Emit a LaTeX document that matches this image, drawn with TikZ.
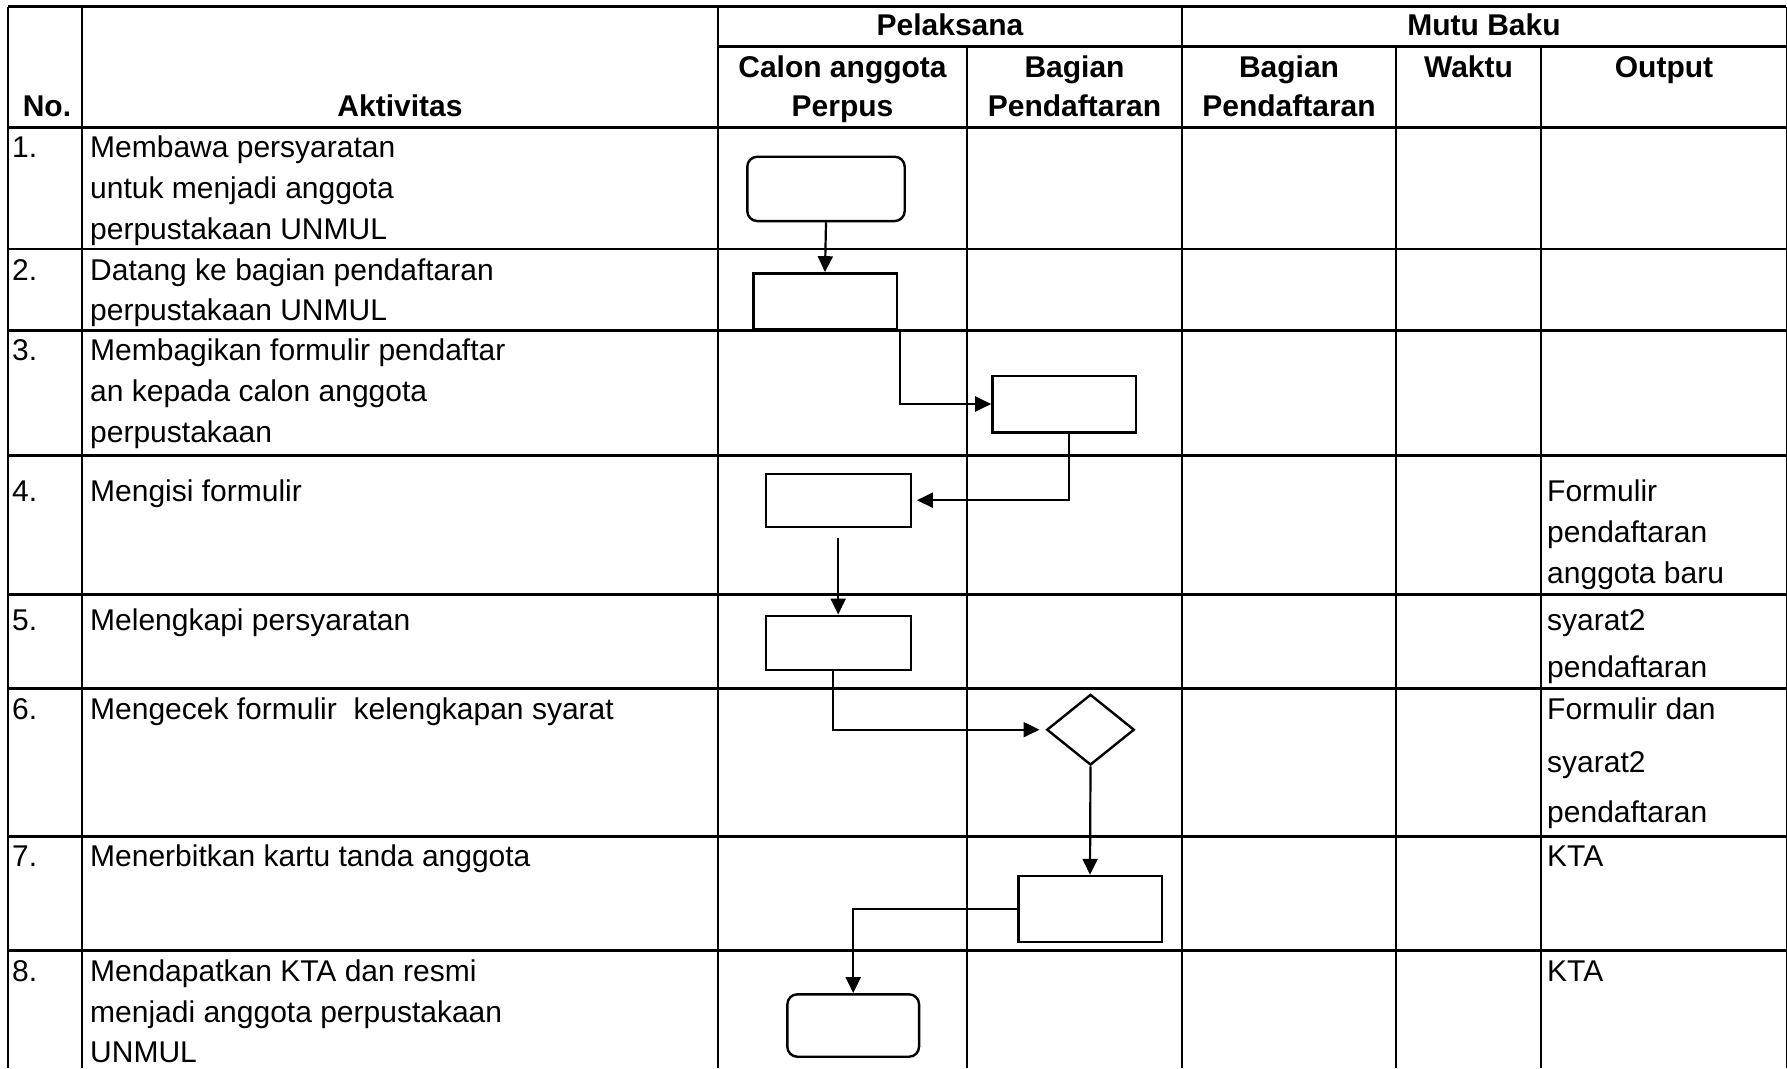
\documentclass[tikz,border=0pt]{standalone}
\usepackage{fontspec}
\setmainfont{Liberation Sans}
\usetikzlibrary{shapes.geometric,arrows.meta,calc}
\begin{document}
\begin{tikzpicture}[x=1pt,y=-1pt,
  grid/.style={line width=2.8pt},
  thinborder/.style={line width=1pt},
  box/.style={draw, rectangle, line width=2.4pt, inner sep=0pt},
  rbox/.style={box, rounded corners=10pt},
  dia/.style={draw, diamond, line width=2.4pt, inner sep=0pt},
  arr/.style={line width=2.2pt, -{Triangle[length=16pt,width=15pt]}},
  txt/.style={anchor=base west, inner sep=0pt, font=\fontsize{30}{36}\selectfont},
  hdr/.style={anchor=base, inner sep=0pt, font=\fontsize{30}{36}\selectfont\bfseries},
]
\useasboundingbox (0,0) rectangle (1787,1068);
\fill[white] (0,0) rectangle (1787,1068);

% ---- table grid ----
\draw[grid] (8,6.7) -- (1786,6.7);
\draw[grid] (718,46.7) -- (1786,46.7);
\foreach \yy in {127.7,249,330.3,455.3,594.3,688.3,836.7,950.3}
  \draw[grid] (8,\yy) -- (1786,\yy);
\foreach \xx in {8,82,718,1182}
  \draw[grid] (\xx,6.7) -- (\xx,1068);
\foreach \xx in {967,1396,1541}
  \draw[grid] (\xx,46.7) -- (\xx,1068);
\draw[thinborder] (1786,6.7) -- (1786,1068);

% ---- headers ----
\node[hdr] (hno) at (47,116) {No.};
\node[hdr] (hakt) at (400,116) {Aktivitas};
\node[hdr] (hpel) at (950,35) {Pelaksana};
\node[hdr] (hmutu) at (1484,35) {Mutu Baku};
\node[hdr] (hcal1) at (842.5,77) {Calon anggota};
\node[hdr] (hcal2) at (842.5,116) {Perpus};
\node[hdr] (hbag1) at (1074.5,77) {Bagian};
\node[hdr] (hbag2) at (1074.5,116) {Pendaftaran};
\node[hdr] (hmbag1) at (1289,77) {Bagian};
\node[hdr] (hmbag2) at (1289,116) {Pendaftaran};
\node[hdr] (hwak) at (1468.5,77) {Waktu};
\node[hdr] (hout) at (1664,77) {Output};

% ---- row texts ----
\node[txt] (n1) at (12,157.5) {1.};
\node[txt] (a1a) at (90,157.5) {Membawa persyaratan};
\node[txt] (a1b) at (90,198) {untuk menjadi anggota};
\node[txt] (a1c) at (90,239) {perpustakaan UNMUL};

\node[txt] (n2) at (12,280) {2.};
\node[txt] (a2a) at (90,280) {Datang ke bagian pendaftaran};
\node[txt] (a2b) at (90,320) {perpustakaan UNMUL};

\node[txt] (n3) at (12,360) {3.};
\node[txt] (a3a) at (90,360) {Membagikan formulir pendaftar};
\node[txt] (a3b) at (90,401) {an kepada calon anggota};
\node[txt] (a3c) at (90,442) {perpustakaan};

\node[txt] (n4) at (12,501) {4.};
\node[txt] (a4a) at (90,501) {Mengisi formulir};
\node[txt] (o4a) at (1547,501) {Formulir};
\node[txt] (o4b) at (1547,542) {pendaftaran};
\node[txt] (o4c) at (1547,583) {anggota baru};

\node[txt] (n5) at (12,630) {5.};
\node[txt] (a5a) at (90,630) {Melengkapi persyaratan};
\node[txt] (o5a) at (1547,630) {syarat2};
\node[txt] (o5b) at (1547,677) {pendaftaran};

\node[txt] (n6) at (12,719) {6.};
\node[txt] (a6a) at (90,719) {Mengecek formulir\ \ kelengkapan syarat};
\node[txt] (o6a) at (1547,719) {Formulir dan};
\node[txt] (o6b) at (1547,772) {syarat2};
\node[txt] (o6c) at (1547,822) {pendaftaran};

\node[txt] (n7) at (12,866) {7.};
\node[txt] (a7a) at (90,866) {Menerbitkan kartu tanda anggota};
\node[txt] (o7a) at (1547,866) {KTA};

\node[txt] (n8) at (12,981) {8.};
\node[txt] (a8a) at (90,981) {Mendapatkan KTA dan resmi};
\node[txt] (a8b) at (90,1022) {menjadi anggota perpustakaan};
\node[txt] (a8c) at (90,1062) {UNMUL};
\node[txt] (o8a) at (1547,981) {KTA};

% ---- flowchart shapes ----
\node[rbox, minimum width=157.4pt, minimum height=64.3pt] (s1) at (826,188.9) {};
\node[box, minimum width=143.4pt, minimum height=55.7pt] (s2) at (825,301.2) {};
\node[box, minimum width=143.7pt, minimum height=56.6pt] (s3) at (1064.2,404) {};
\node[box, minimum width=145pt, minimum height=53pt] (s4) at (838.2,500.2) {};
\node[box, minimum width=145pt, minimum height=54.3pt] (s5) at (838.2,642.9) {};
\node[dia, minimum width=87.6pt, minimum height=70.7pt] (s6) at (1090.5,729.7) {};
\node[box, minimum width=143.4pt, minimum height=66pt] (s7) at (1090,909) {};
\node[rbox, minimum width=131.7pt, minimum height=62.4pt] (s8) at (853.2,1025.5) {};

% ---- connectors ----
\draw[arr] (s1.south) -- (s2.north);
\draw[arr] ([xshift=2pt]s2.south east) |- (s3.west);
\draw[arr] ([xshift=5pt]s3.south) |- ([xshift=5pt]s4.east);
\draw[arr] ([yshift=-10pt]s4.south) -- (s5.north);
\draw[arr] ([xshift=-5pt]s5.south) |- ([xshift=-6pt]s6.west);
\draw[arr] (s6.south) -- (s7.north);
\draw[arr] (s7.west) -| (s8.north);
\end{tikzpicture}
\end{document}
